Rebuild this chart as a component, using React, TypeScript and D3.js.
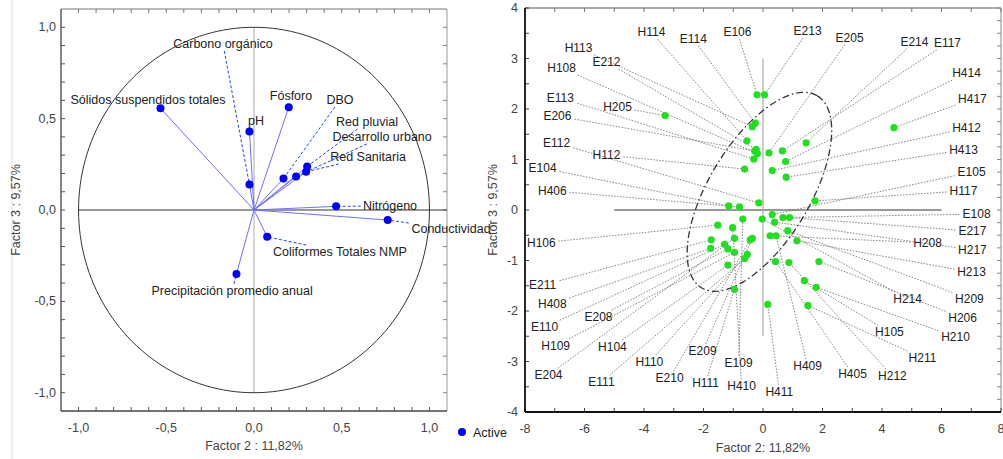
import * as d3 from 'd3';

const W = 1003;
const H = 459;
const FONT = '"Liberation Sans", Arial, sans-serif';

// variables (left plot): loadings on factor 2 / factor 3
const varNames = [
  'Sólidos suspendidos totales', 'Carbono orgánico', 'pH', 'Fósforo', 'DBO', 'Red pluvial',
  'Desarrollo urbano', 'Red Sanitaria', 'Nitrógeno', 'Conductividad', 'Coliformes Totales NMP',
  'Precipitación promedio anual',
];
const varF2 = [-0.533, -0.026, -0.026, 0.198, 0.168, 0.303, 0.24, 0.297, 0.468, 0.762, 0.075, -0.1];
const varF3 = [0.557, 0.14, 0.43, 0.562, 0.172, 0.238, 0.183, 0.209, 0.02, -0.055, -0.147, -0.35];
// where each name sits (same units as the loadings)
const varLabX = [-0.604, -0.177, 0.011, 0.211, 0.49, 0.644, 0.73, 0.65, 0.775, 1.123, 0.49, -0.125];
const varLabY = [0.602, 0.909, 0.487, 0.624, 0.602, 0.482, 0.4, 0.29, 0.022, -0.104, -0.23, -0.443];

// observations (right plot): scores on factor 2 / factor 3
const obsNames = [
  'H114', 'E114', 'E106', 'E213', 'E205', 'E214', 'E117', 'H414', 'H417', 'H412', 'H413', 'E105',
  'H117', 'E108', 'E217', 'H208', 'H217', 'H213', 'H214', 'H209', 'H206', 'H210', 'H105', 'H211',
  'H212', 'H405', 'H409', 'H411', 'H410', 'E109', 'H111', 'E209', 'E210', 'H110', 'E111', 'E204',
  'H104', 'H109', 'E208', 'E110', 'H408', 'E211', 'H106', 'H406', 'E104', 'H112', 'E112', 'E206',
  'H205', 'E113', 'H108', 'E212', 'H113',
];
const obsF2 = [
  -0.54, -0.26, -0.2, 0.05, 0.2, 1.45, 0.65, 0.76, 4.4, 0.31, 0.78, 0.31,
  1.75, 0.67, 0.89, 0.24, 0.39, 1.14, -0.03, 0.83, 1.88, 1.79, 1.39, 1.51,
  0.87, 0.42, 0.44, 0.16, -1.02, -0.68, -0.96, -0.36, -0.43, -0.53, -0.62, -0.96,
  -1.18, -0.96, -1.18, -1.29, -1.76, -1.74, -1.52, -0.79, -1.15, -0.62, -0.14, -0.28,
  -3.29, -0.31, -0.19, -0.23, -0.36,
];
const obsF3 = [
  1.37, 1.72, 2.28, 2.28, 1.13, 1.33, 1.17, 0.96, 1.63, 0.78, 0.65, -0.09,
  0.18, -0.15, -0.15, -0.51, -0.24, -0.61, -0.18, -0.41, -1.02, -1.53, -1.4, -1.89,
  -1.04, -1.02, -0.51, -1.87, -0.35, -0.18, -1.57, -0.56, -0.59, -0.88, -0.96, -0.56,
  -1.09, -0.84, -0.77, -0.68, -0.76, -0.59, -0.3, 0.06, 0.08, 0.81, 0.14, 1.17,
  1.87, 1.01, 1.12, 1.2, 1.65,
];
const obsLabX = [
  -3.75, -2.34, -0.86, 1.5, 2.91, 5.09, 6.2, 6.84, 7.04, 6.84, 6.74, 7.01,
  6.74, 7.18, 7.04, 5.53, 7.04, 7.01, 4.86, 6.94, 6.71, 6.47, 4.25, 5.36,
  4.35, 3.01, 1.5, 0.55, -0.72, -0.82, -1.93, -2.03, -3.14, -3.82, -5.43, -7.21,
  -5.06, -6.97, -5.53, -7.34, -7.08, -7.41, -7.45, -7.08, -7.41, -5.26, -6.94, -6.91,
  -4.89, -6.81, -6.77, -5.26, -6.2,
];
const obsLabY = [
  3.52, 3.39, 3.52, 3.54, 3.41, 3.33, 3.31, 2.71, 2.2, 1.62, 1.19, 0.75,
  0.38, -0.08, -0.42, -0.65, -0.79, -1.23, -1.76, -1.76, -2.14, -2.51, -2.42, -2.93,
  -3.29, -3.25, -3.09, -3.6, -3.49, -3.03, -3.43, -2.79, -3.33, -3.01, -3.41, -3.27,
  -2.71, -2.69, -2.12, -2.32, -1.86, -1.49, -0.65, 0.38, 0.83, 1.09, 1.33, 1.86,
  2.04, 2.22, 2.81, 2.93, 3.21,
];

// confidence ellipse: centre and two conjugate semi-axes
const ellCenter = [-0.12, 0.36];
const ellAxisA = [1.95, 1.9];
const ellAxisB = [1.45, -0.52];

const leftTicks = [-1, -0.5, 0, 0.5, 1];
const rightTicksX = [-8, -6, -4, -2, 0, 2, 4, 6, 8];
const rightTicksY = [-4, -3, -2, -1, 0, 1, 2, 3, 4];

const fmtComma = (v: number) => v.toFixed(1).replace('.', ',');

// start of a leader line: edge of the label box, in the direction of the point
function leaderStart(cx: number, cy: number, px: number, py: number, hw: number, hh: number) {
  const dx = px - cx;
  const dy = py - cy;
  const t = Math.min(dx ? hw / Math.abs(dx) : 1e9, dy ? hh / Math.abs(dy) : 1e9);
  return [cx + dx * t, cy + dy * t];
}

function LeftPlot() {
  const x = d3.scaleLinear().domain([-1.1, 1.1]).range([61, 447]);
  const y = d3.scaleLinear().domain([-1.1, 1.1]).range([411, 9]);
  const [x0, x1] = x.range();
  const [y0, y1] = [y.range()[1], y.range()[0]];
  const minor = d3.range(-10, 11).map(i => i / 10);
  const circle = d3.line<number>()
    .x(a => x(Math.cos(a)))
    .y(a => y(Math.sin(a)))(d3.range(0, 361, 2).map(d => (d * Math.PI) / 180));
  const fs = 12.5;

  return (
    <g>
      {/* frame */}
      <line x1={x0} x2={x1} y1={y0} y2={y0} stroke="#777" strokeWidth={1} />
      <line x1={x1} x2={x1} y1={y0} y2={y1} stroke="#999" strokeWidth={1} />
      <line x1={x0} x2={x0} y1={y0} y2={y1} stroke="#444" strokeWidth={1.3} />
      <line x1={x0} x2={x1} y1={y1} y2={y1} stroke="#444" strokeWidth={1.3} />
      {minor.map(v => (
        <g key={v}>
          <line x1={x(v)} x2={x(v)} y1={y1} y2={y1 - 4} stroke="#555" />
          <line x1={x(v)} x2={x(v)} y1={y0} y2={y0 + 4} stroke="#777" />
          <line x1={x0} x2={x0 + 4} y1={y(v)} y2={y(v)} stroke="#555" />
          <line x1={x1} x2={x1 - 4} y1={y(v)} y2={y(v)} stroke="#888" />
        </g>
      ))}
      {leftTicks.map(v => (
        <g key={v} fontFamily={FONT} fontSize={12.5} fill="#444">
          <text x={x(v)} y={y1 + 21} textAnchor="middle">{fmtComma(v)}</text>
          <text x={x0 - 5} y={y(v) + 4} textAnchor="end">{fmtComma(v)}</text>
        </g>
      ))}
      {/* reference lines and unit circle */}
      <line x1={x(0)} x2={x(0)} y1={y(-1)} y2={y(1)} stroke="#aaa" strokeWidth={1} />
      <line x1={x(-1)} x2={x1} y1={y(0)} y2={y(0)} stroke="#333" strokeWidth={1.2} />
      <path d={circle ?? ''} fill="none" stroke="#333" strokeWidth={1} />
      {/* vectors */}
      {varNames.map((n, i) => (
        <line key={n} x1={x(0)} y1={y(0)} x2={x(varF2[i])} y2={y(varF3[i])} stroke="#6f6fff" strokeWidth={1} />
      ))}
      {varNames.map((n, i) => {
        const px = x(varF2[i]);
        const py = y(varF3[i]);
        const cx = x(varLabX[i]);
        const cy = y(varLabY[i]);
        const hw = n.length * fs * 0.26;
        const [sx, sy] = leaderStart(cx, cy, px, py, hw, 7);
        const far = Math.hypot(px - sx, py - sy) > 8;
        return (
          <g key={n}>
            {far && (
              <line x1={sx} y1={sy} x2={px} y2={py} stroke="#2244ff" strokeWidth={1} strokeDasharray="3,2" />
            )}
            <circle cx={px} cy={py} r={4} fill="#0000ff" />
            <text x={cx} y={cy} dy="0.35em" textAnchor="middle" fontFamily={FONT} fontSize={fs} fill="#222">{n}</text>
          </g>
        );
      })}
      {/* titles */}
      <text x={x(0)} y={450} textAnchor="middle" fontFamily={FONT} fontSize={12.5} fill="#444">Factor 2 : 11,82%</text>
      <text transform={`translate(20,${y(0)}) rotate(-90)`} textAnchor="middle" fontFamily={FONT} fontSize={12.5} fill="#444">Factor 3 :  9,57%</text>
      {/* legend */}
      <circle cx={x1 + 15} cy={432} r={4} fill="#0000ff" />
      <text x={x1 + 26} y={437} fontFamily={FONT} fontSize={12.5} fill="#222">Active</text>
    </g>
  );
}

function RightPlot() {
  const x = d3.scaleLinear().domain([-8, 8]).range([525, 1001]);
  const y = d3.scaleLinear().domain([-4, 4]).range([412, 8]);
  const [x0, x1] = x.range();
  const y0 = y(4);
  const y1 = y(-4);
  const ell = d3.line<number>()
    .x(a => x(ellCenter[0] + ellAxisA[0] * Math.cos(a) + ellAxisB[0] * Math.sin(a)))
    .y(a => y(ellCenter[1] + ellAxisA[1] * Math.cos(a) + ellAxisB[1] * Math.sin(a)))(
      d3.range(0, 361, 3).map(d => (d * Math.PI) / 180),
    );
  const fs = 12;

  return (
    <g>
      {/* frame */}
      <line x1={x0} x2={x1} y1={y0} y2={y0} stroke="#555" strokeWidth={1.2} />
      <line x1={x1} x2={x1} y1={y0} y2={y1} stroke="#888" strokeWidth={1} />
      {d3.range(-8, 9).map(v => (
        <g key={v}>
          <line x1={x(v)} x2={x(v)} y1={y1} y2={y1 - 4} stroke="#444" />
          <line x1={x(v)} x2={x(v)} y1={y0} y2={y0 + 4} stroke="#777" />
        </g>
      ))}
      {d3.range(-4, 4.01, 0.5).map(v => (
        <line key={v} x1={x0} x2={x0 + 4} y1={y(v)} y2={y(v)} stroke="#444" />
      ))}
      {d3.range(-4, 4.01, 0.25).map(v => (
        <line key={v} x1={x1} x2={x1 - 4} y1={y(v)} y2={y(v)} stroke="#888" />
      ))}
      <line x1={x0} x2={x0} y1={y0} y2={y1} stroke="#111" strokeWidth={1.8} />
      <line x1={x0} x2={x1} y1={y1} y2={y1} stroke="#111" strokeWidth={1.8} />
      {rightTicksX.map(v => (
        <text key={v} x={x(v)} y={y1 + 21} textAnchor="middle" fontFamily={FONT} fontSize={12.5} fill="#444">{v}</text>
      ))}
      {rightTicksY.map(v => (
        <text key={v} x={x0 - 7} y={y(v) + 4} textAnchor="end" fontFamily={FONT} fontSize={12.5} fill="#444">{v}</text>
      ))}
      {/* reference lines */}
      <line x1={x(-5)} x2={x(6)} y1={y(0)} y2={y(0)} stroke="#777" strokeWidth={1.5} />
      <line x1={x(0)} x2={x(0)} y1={y(-2.5)} y2={y(3)} stroke="#aaa" strokeWidth={1.2} />
      {/* leaders */}
      {obsNames.map((n, i) => {
        const px = x(obsF2[i]);
        const py = y(obsF3[i]);
        const [sx, sy] = leaderStart(x(obsLabX[i]), y(obsLabY[i]), px, py, 17, 7);
        return (
          <line key={n} x1={sx} y1={sy} x2={px} y2={py} stroke="#666" strokeWidth={0.8} strokeDasharray="1.5,1.5" />
        );
      })}
      <path d={ell ?? ''} fill="none" stroke="#333" strokeWidth={1.3} strokeDasharray="7,3,1.5,3" />
      {obsNames.map((n, i) => (
        <circle key={n} cx={x(obsF2[i])} cy={y(obsF3[i])} r={3.6} fill="#1ee01e" />
      ))}
      {obsNames.map((n, i) => (
        <text key={n} x={x(obsLabX[i])} y={y(obsLabY[i])} dy="0.35em" textAnchor="middle" fontFamily={FONT} fontSize={fs} fill="#222">{n}</text>
      ))}
      {/* titles */}
      <text x={x(0)} y={452} textAnchor="middle" fontFamily={FONT} fontSize={12.5} fill="#444">Factor 2: 11,82%</text>
      <text transform={`translate(497,${y(0)}) rotate(-90)`} textAnchor="middle" fontFamily={FONT} fontSize={12.5} fill="#444">Factor 3 :  9,57%</text>
    </g>
  );
}

export default function App() {
  return (
    <svg width={W} height={H} style={{ position: 'absolute', left: 0, top: 0, background: '#fff' }}>
      <rect width={W} height={H} fill="#fff" />
      <line x1={12} x2={12} y1={0} y2={H} stroke="#ddd" />
      <LeftPlot />
      <RightPlot />
    </svg>
  );
}
